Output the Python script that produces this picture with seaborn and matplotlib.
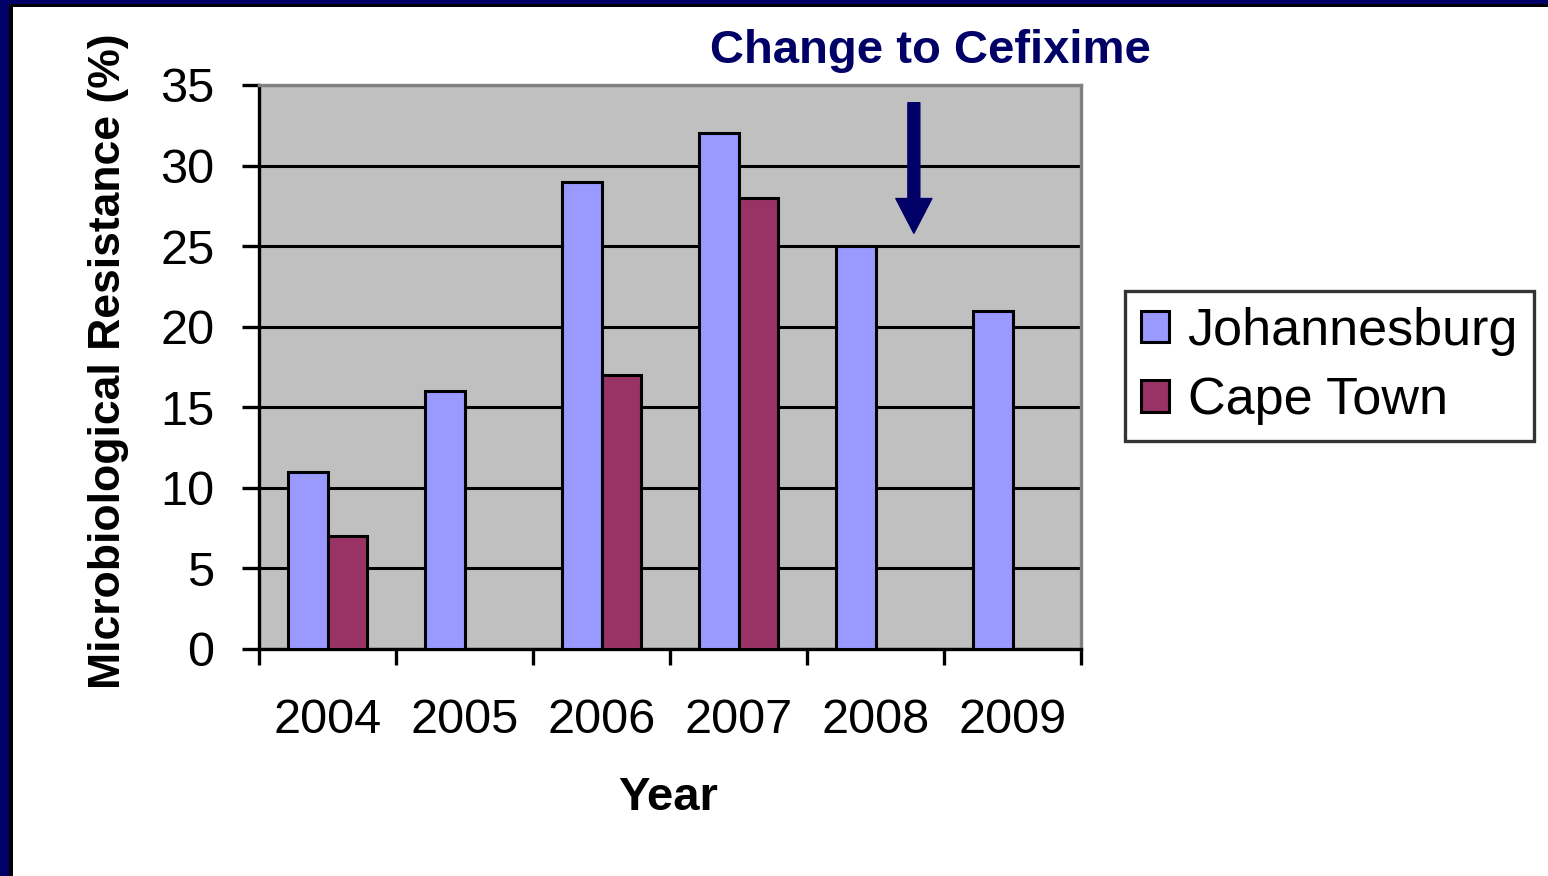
import numpy as np
import pandas as pd
import matplotlib
matplotlib.use("Agg")
import matplotlib.pyplot as plt
from matplotlib.patches import Patch, Rectangle
import seaborn as sns

# Gonococcal ciprofloxacin resistance by year and city
years = ["2004", "2005", "2006", "2007", "2008", "2009"]
johannesburg = [11, 16, 29, 32, 25, 21]
cape_town = [7, np.nan, 17, 28, np.nan, np.nan]
cities = ["Johannesburg", "Cape Town"]
city_colors = ["#9999FF", "#993366"]
y_ticks = [0, 5, 10, 15, 20, 25, 30, 35]

df = pd.DataFrame({
    "Year": years * 2,
    "City": [cities[0]] * len(years) + [cities[1]] * len(years),
    "Resistance": johannesburg + cape_town,
}).dropna()

sns.set_theme(style="white")
plt.rcParams["font.family"] = ["Liberation Sans", "DejaVu Sans"]
plt.rcParams.update({"text.color": "black", "axes.labelcolor": "black",
                     "xtick.color": "black", "ytick.color": "black"})

NAVY = "#000066"

fig = plt.figure(figsize=(15.48, 8.76), dpi=100)
fig.patch.set_facecolor("white")

# slide frame along the left and top edges
fig.patches.append(Rectangle((0, 0), 9 / 1548, 1, transform=fig.transFigure,
                             facecolor=NAVY, edgecolor="none", zorder=0))
fig.patches.append(Rectangle((9 / 1548, 0), 4 / 1548, 1 - 4 / 876, transform=fig.transFigure,
                             facecolor="black", edgecolor="none", zorder=0))
fig.patches.append(Rectangle((0, 1 - 4 / 876), 1, 4 / 876, transform=fig.transFigure,
                             facecolor=NAVY, edgecolor="none", zorder=0))
fig.patches.append(Rectangle((9 / 1548, 1 - 7 / 876), 1, 3 / 876, transform=fig.transFigure,
                             facecolor="black", edgecolor="none", zorder=0))

ax = fig.add_axes([259 / 1548, 1 - 649 / 876, 822 / 1548, 564 / 876])
ax.set_facecolor("#C0C0C0")

sns.barplot(data=df, x="Year", y="Resistance", hue="City", order=years,
            hue_order=cities, palette=city_colors, saturation=1,
            width=0.572, edgecolor="black", linewidth=2.2, errorbar=None,
            ax=ax, zorder=3)

ax.set_xlim(-0.5, len(years) - 0.5)
ax.set_ylim(0, 35)
ax.set_yticks(y_ticks)
ax.yaxis.grid(True, color="black", linewidth=2.2, zorder=1)
ax.xaxis.grid(False)
ax.set_axisbelow(True)

for side in ("left", "bottom"):
    ax.spines[side].set_color("black")
    ax.spines[side].set_linewidth(2.4)
for side in ("top", "right"):
    ax.spines[side].set_color("#808080")
    ax.spines[side].set_linewidth(2.4)
    ax.spines[side].set_visible(True)

# category boundary ticks on x, labels centred between them
ax.set_xticks(np.arange(-0.5, len(years), 1.0), minor=True)
ax.tick_params(axis="x", which="minor", direction="out", length=11.5, width=2.4,
               color="black", bottom=True)
ax.tick_params(axis="x", which="major", length=0, pad=35, labelsize=35)
ax.tick_params(axis="y", which="major", direction="out", length=12, width=2.4,
               color="black", left=True, pad=20, labelsize=35)

ax.set_xlabel("Year", fontsize=34, fontweight="bold")
ax.xaxis.set_label_coords(0.4976, -0.225)
ax.set_ylabel("Microbiological Resistance (%)", fontsize=32, fontweight="bold")
ax.yaxis.set_label_coords(-0.158, 0.51)

# arrow marking the switch to cefixime
ax.annotate("", xy=(4.28, 25.8), xytext=(4.28, 33.9),
            arrowprops=dict(arrowstyle="simple,head_length=1.25,head_width=1.3,tail_width=0.43",
                            mutation_scale=20, color=NAVY, shrinkA=0, shrinkB=0),
            zorder=5)

fig.text(930 / 1548, 1 - 51 / 876, "Change to Cefixime", color=NAVY,
         fontsize=34, fontweight="bold", ha="center", va="center")

if ax.get_legend() is not None:
    ax.get_legend().remove()
handles = [Patch(facecolor=c, edgecolor="black", linewidth=2.2) for c in city_colors]
leg = fig.legend(handles, cities, loc="upper left",
                 bbox_to_anchor=(1125 / 1548, 1 - 291 / 876), borderaxespad=0,
                 fontsize=37.5, frameon=True, fancybox=False, handlelength=0.55,
                 handleheight=0.55, handletextpad=0.35, labelspacing=0.4,
                 borderpad=0.3)
leg.get_frame().set_edgecolor("black")
leg.get_frame().set_linewidth(2.4)

fig.savefig("out.png", dpi=100, facecolor="white")
